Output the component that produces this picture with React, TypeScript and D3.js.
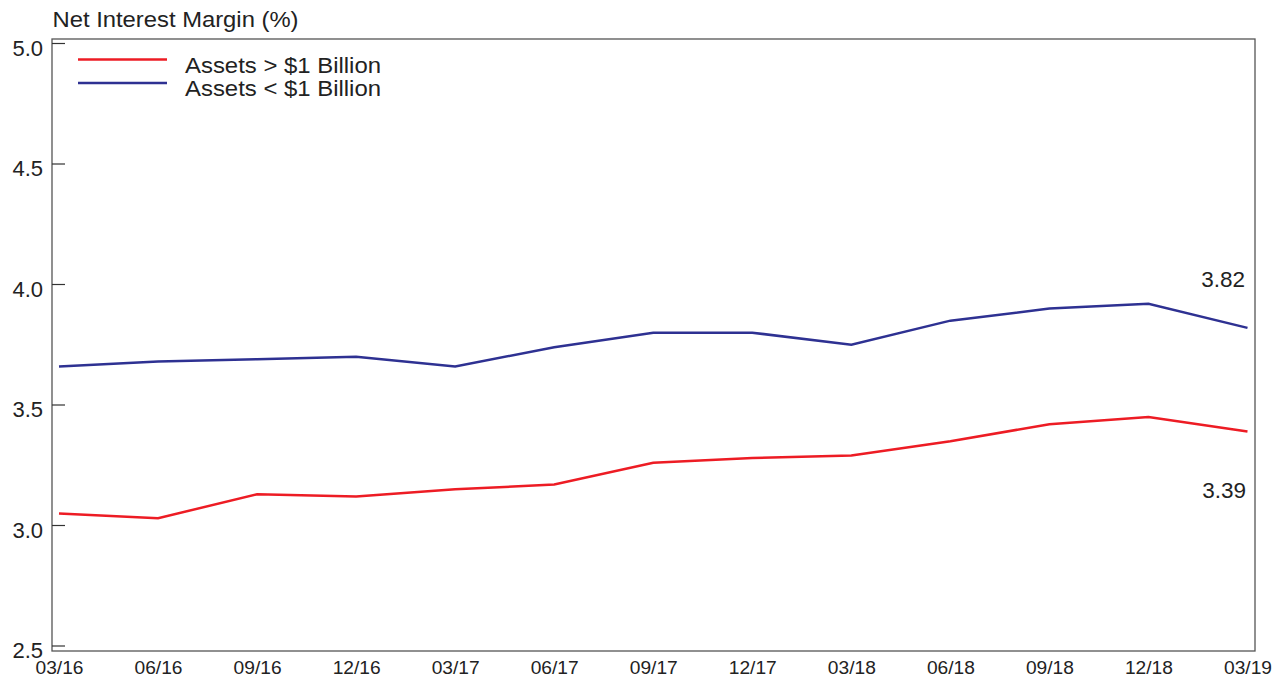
import React from "react";
import * as d3 from "d3";

const categories = ["03/16","06/16","09/16","12/16","03/17","06/17","09/17","12/17","03/18","06/18","09/18","12/18","03/19"];
const over1B = [3.05,3.03,3.13,3.12,3.15,3.17,3.26,3.28,3.29,3.35,3.42,3.45,3.39];
const under1B = [3.66,3.68,3.69,3.70,3.66,3.74,3.80,3.80,3.75,3.85,3.90,3.92,3.82];
const yTicks = [2.5,3.0,3.5,4.0,4.5,5.0];
const seriesNames = ["Assets > $1 Billion","Assets < $1 Billion"];
const title = "Net Interest Margin (%)";

const W = 1281, H = 678;
const frame = { left: 52, top: 39, right: 1255, bottom: 651 };
const RED = "#ed1c24";
const BLUE = "#2e3192";
const TXT = "#222";
const FONT = "'Liberation Sans', Arial, Helvetica, sans-serif";

export default function App() {
  const x = d3.scalePoint<string>().domain(categories).range([59, 1247.5]);
  const y = d3.scaleLinear().domain([2.5, 5.0]).range([646, 43.5]);
  const line = d3.line<number>().x((_, i) => x(categories[i])!).y(d => y(d));
  const last = categories.length - 1;
  return (
    <svg width={W} height={H} style={{ position: "absolute", left: 0, top: 0, background: "#fff" }} fontFamily={FONT}>
      <rect x={0} y={0} width={W} height={H} fill="#fff" />
      <text x={52.5} y={27} fontSize={22} fill={TXT} textLength={246} lengthAdjust="spacingAndGlyphs">{title}</text>
      <rect x={frame.left} y={frame.top} width={frame.right - frame.left} height={frame.bottom - frame.top} fill="none" stroke="#555" strokeWidth={1.3} />
      {yTicks.map(t => (
        <g key={t}>
          <line x1={frame.left} x2={frame.left + 13} y1={y(t)} y2={y(t)} stroke="#333" strokeWidth={1.2} />
          <text x={43} y={y(t) + 12} textAnchor="end" fontSize={22} fill={TXT}>{t.toFixed(1)}</text>
        </g>
      ))}
      {categories.map(c => (
        <text key={c} x={x(c)! + 0.5} y={674} textAnchor="middle" fontSize={18} fill={TXT} textLength={48} lengthAdjust="spacingAndGlyphs">{c}</text>
      ))}
      <path d={line(under1B)!} fill="none" stroke={BLUE} strokeWidth={2.5} strokeLinejoin="miter" />
      <path d={line(over1B)!} fill="none" stroke={RED} strokeWidth={2.5} strokeLinejoin="miter" />
      <text x={1245} y={287} textAnchor="end" fontSize={22.5} fill={TXT}>{under1B[last].toFixed(2)}</text>
      <text x={1246} y={498} textAnchor="end" fontSize={22.5} fill={TXT}>{over1B[last].toFixed(2)}</text>
      <line x1={78} x2={167} y1={59.5} y2={59.5} stroke={RED} strokeWidth={2.5} />
      <line x1={78} x2={167} y1={83} y2={83} stroke={BLUE} strokeWidth={2.5} />
      <text x={185} y={72.5} fontSize={21.5} fill={TXT} textLength={196} lengthAdjust="spacingAndGlyphs">{seriesNames[0]}</text>
      <text x={185} y={95.7} fontSize={21.5} fill={TXT} textLength={196} lengthAdjust="spacingAndGlyphs">{seriesNames[1]}</text>
    </svg>
  );
}
